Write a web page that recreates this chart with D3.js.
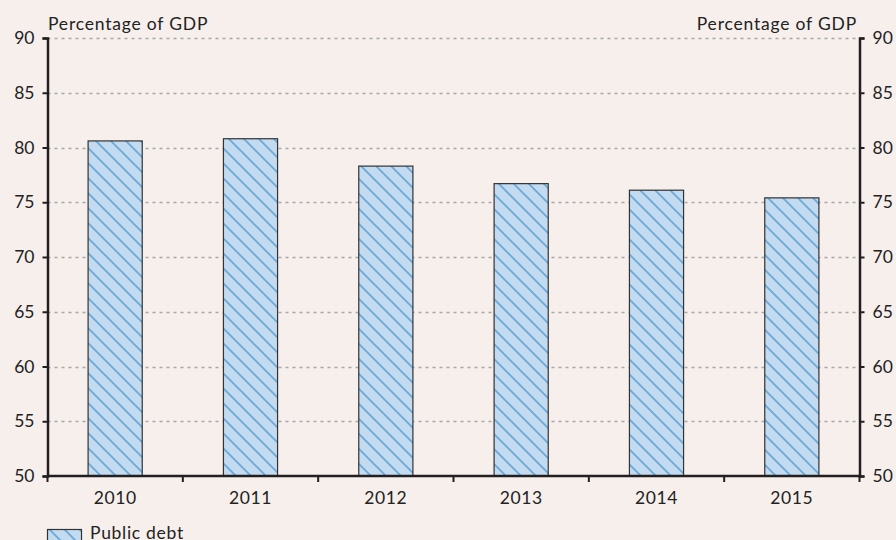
<!DOCTYPE html>
<html><head><meta charset="utf-8">
<script src="https://cdn.jsdelivr.net/npm/d3@7"></script>
<style>
html,body{margin:0;padding:0;background:#f6efec;}
text{font-family:Lato,"Open Sans",sans-serif;fill:#222;}
</style></head>
<body>
<svg id="c" width="896" height="540"></svg>
<script>
const years = ["2010","2011","2012","2013","2014","2015"];
const publicDebt = [80.6, 80.8, 78.3, 76.7, 76.1, 75.4];
const yTicks = [50,55,60,65,70,75,80,85,90];
const axisTitle = "Percentage of GDP";
const legendLabel = "Public debt";

const svg = d3.select("#c");
const L = 47.5, R = 859.5, T = 38, B = 476;
const x = d3.scaleBand().domain(years).range([L, R]).paddingInner(0.6).paddingOuter(0.3);
const xb = d3.scaleBand().domain(years).range([L, R]);
const y = d3.scaleLinear().domain([50, 90]).range([B, T]);

const defs = svg.append("defs");
const pat = defs.append("pattern").attr("id","hatch").attr("patternUnits","userSpaceOnUse")
  .attr("width",15).attr("height",15);
pat.append("rect").attr("width",15).attr("height",15).attr("fill","#c3dbf0");
pat.append("path").attr("d","M-4,-4 L19,19 M-4,11 L4,19 M11,-4 L19,4")
  .attr("stroke","#6eaad8").attr("stroke-width",1.9);

// gridlines
svg.append("g").selectAll("line").data(yTicks.filter(d=>d>50)).join("line")
  .attr("x1",L).attr("x2",R).attr("y1",d=>Math.round(y(d))+0.5).attr("y2",d=>Math.round(y(d))+0.5)
  .attr("stroke","#a8a8a8").attr("stroke-width",1.3).attr("stroke-dasharray","3,4");

// bars
svg.append("g").selectAll("rect").data(years).join("rect")
  .attr("x",d=>x(d)).attr("width",x.bandwidth())
  .attr("y",(d,i)=>y(publicDebt[i])).attr("height",(d,i)=>B - y(publicDebt[i]))
  .attr("fill","url(#hatch)").attr("stroke","#333").attr("stroke-width",1.2);

// axes
const fs = "17.5px";
const ff = "Lato,'Open Sans',sans-serif";
const yl = d3.axisLeft(y).tickValues(yTicks).tickSize(5).tickPadding(8);
const yr = d3.axisRight(y).tickValues(yTicks).tickSize(5).tickPadding(8);
const gl = svg.append("g").attr("transform",`translate(${L},0)`).call(yl);
const gr = svg.append("g").attr("transform",`translate(${R},0)`).call(yr);
[gl,gr].forEach(g=>{
  g.select(".domain").attr("stroke","#231f20").attr("stroke-width",2.5);
  g.selectAll(".tick line").attr("stroke","#231f20").attr("stroke-width",2);
  g.selectAll(".tick text").attr("font-size",fs).attr("font-family",ff).attr("fill","#222");
});

// x axis
const gx = svg.append("g").attr("transform",`translate(0,${B})`);
gx.append("line").attr("x1",L).attr("x2",R).attr("stroke","#231f20").attr("stroke-width",2.5);
const bounds = years.map(d=>xb(d)).concat([R]);
gx.selectAll("line.tk").data(bounds).join("line").attr("class","tk")
  .attr("x1",d=>d).attr("x2",d=>d).attr("y1",0).attr("y2",6)
  .attr("stroke","#231f20").attr("stroke-width",2);
gx.selectAll("text").data(years).join("text")
  .attr("x",d=>xb(d)+xb.bandwidth()/2).attr("y",28).attr("text-anchor","middle")
  .attr("font-size",fs).attr("letter-spacing","0.6px").text(d=>d);

// axis titles
svg.append("text").attr("x",48).attr("y",30).attr("font-size",fs).attr("letter-spacing","0.8px").text(axisTitle);
svg.append("text").attr("x",857).attr("y",30).attr("text-anchor","end").attr("font-size",fs).attr("letter-spacing","0.8px").text(axisTitle);

// legend
svg.append("rect").attr("x",47.5).attr("y",529.5).attr("width",34).attr("height",14)
  .attr("fill","url(#hatch)").attr("stroke","#333").attr("stroke-width",1.2);
svg.append("text").attr("x",90).attr("y",538.5).attr("font-size",fs).attr("letter-spacing","0.7px").text(legendLabel);
</script>
</body></html>
